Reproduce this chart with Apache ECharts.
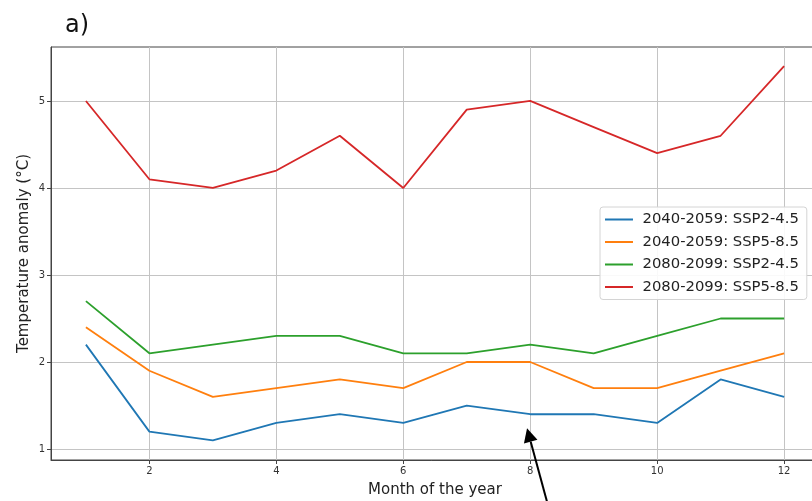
<!DOCTYPE html>
<html>
<head>
<meta charset="utf-8">
<script src="https://cdn.jsdelivr.net/npm/echarts@6/dist/echarts.min.js"></script>
<style>
  html, body { margin: 0; padding: 0; background: #fff; }
  #chart { width: 812px; height: 501px; }
</style>
</head>
<body>
<div id="chart"></div>
<script>
// Monthly temperature anomaly (°C) per period / scenario
const months = [1, 2, 3, 4, 5, 6, 7, 8, 9, 10, 11, 12];
const seriesNames = [
  '2040-2059: SSP2-4.5',
  '2040-2059: SSP5-8.5',
  '2080-2099: SSP2-4.5',
  '2080-2099: SSP5-8.5'
];
const near245 = [2.2, 1.2, 1.1, 1.3, 1.4, 1.3, 1.5, 1.4, 1.4, 1.3, 1.8, 1.6];
const near585 = [2.4, 1.9, 1.6, 1.7, 1.8, 1.7, 2.0, 2.0, 1.7, 1.7, 1.9, 2.1];
const far245  = [2.7, 2.1, 2.2, 2.3, 2.3, 2.1, 2.1, 2.2, 2.1, 2.3, 2.5, 2.5];
const far585  = [5.0, 4.1, 4.0, 4.2, 4.6, 4.0, 4.9, 5.0, 4.7, 4.4, 4.6, 5.4];
const xTicks = [2, 4, 6, 8, 10, 12];
const yTicks = [1, 2, 3, 4, 5];
// Annotation arrow, in data units: tail below the axis, head pointing at month 8
const arrowTail = [8.30, 0.30];
const arrowHead = [7.95, 1.24];

const colors = ['#1f77b4', '#ff7f0e', '#2ca02c', '#d62728'];
const values = [near245, near585, far245, far585];

const chart = echarts.init(document.getElementById('chart'), null, { renderer: 'canvas' });

const font = 'DejaVu Sans';
const gridLine = { show: true, lineStyle: { color: '#c4c4c4', width: 1 } };
// thin horizontal stroke centred in a 30x15 box, used as the legend key
const legendKey = 'path://M0,0 L0,0.01 M0,6.5 L30,6.5 L30,8.5 L0,8.5 Z M30,15 L30,15.01';

chart.setOption({
  animation: false,
  backgroundColor: '#ffffff',
  color: colors,
  title: {
    text: 'a)',
    left: 60,
    top: 9,
    textStyle: { fontFamily: font, fontSize: 24, fontWeight: 'normal', color: '#111' }
  },
  legend: {
    data: seriesNames,
    icon: legendKey,
    orient: 'vertical',
    left: 600,
    top: 207,
    padding: [5, 8, 5, 5],
    itemWidth: 31,
    itemHeight: 14,
    itemGap: 7.5,
    backgroundColor: 'rgba(255,255,255,0.9)',
    borderColor: '#d4d4d4',
    borderWidth: 1,
    borderRadius: 3,
    textStyle: { fontFamily: font, fontSize: 14.8, lineHeight: 15, color: '#222', padding: [0, 0, 0, 3] }
  },
  grid: {
    left: 51,
    right: -7,
    top: 47,
    bottom: 41,
    containLabel: false,
    outerBoundsMode: 'none',
    show: true,
    borderColor: '#444',
    borderWidth: 1
  },
  xAxis: {
    type: 'value',
    min: 0.45,
    max: 12.55,
    name: 'Month of the year',
    nameLocation: 'middle',
    nameGap: 23,
    nameMoveOverlap: false,
    nameTextStyle: { fontFamily: font, fontSize: 15, color: '#222' },
    axisLine: { show: true, onZero: false, lineStyle: { color: '#444', width: 1 } },
    axisTick: { show: true, length: 4, lineStyle: { color: '#444' }, customValues: xTicks },
    axisLabel: { fontFamily: font, fontSize: 10, color: '#333', margin: 6, customValues: xTicks },
    splitLine: gridLine
  },
  yAxis: {
    type: 'value',
    min: 0.874,
    max: 5.62,
    name: 'Temperature anomaly (°C)',
    nameLocation: 'middle',
    nameGap: 19,
    nameMoveOverlap: false,
    nameRotate: 90,
    nameTextStyle: { fontFamily: font, fontSize: 15, color: '#222' },
    axisLine: { show: true, onZero: false, lineStyle: { color: '#444', width: 1 } },
    axisTick: { show: true, length: 4, lineStyle: { color: '#444' }, customValues: yTicks },
    axisLabel: { fontFamily: font, fontSize: 10, color: '#333', margin: 6, customValues: yTicks },
    splitLine: gridLine
  },
  series: seriesNames.map((name, i) => ({
    name: name,
    type: 'line',
    data: months.map((m, k) => [m, values[i][k]]),
    symbol: 'none',
    lineStyle: { width: 1.8, color: colors[i] },
    emphasis: { disabled: true },
    z: 3
  }))
});

// Arrow annotation placed through the axis scales
function drawArrow() {
  const p0 = chart.convertToPixel({ gridIndex: 0 }, arrowTail);
  const p1 = chart.convertToPixel({ gridIndex: 0 }, arrowHead);
  const dx = p1[0] - p0[0], dy = p1[1] - p0[1];
  const len = Math.hypot(dx, dy);
  const ux = dx / len, uy = dy / len;
  const nx = -uy, ny = ux;
  const headLen = 14, headHalf = 7;
  const base = [p1[0] - ux * headLen, p1[1] - uy * headLen];
  chart.setOption({
    graphic: [
      {
        type: 'line',
        z: 100,
        shape: { x1: p0[0], y1: p0[1], x2: base[0], y2: base[1] },
        style: { stroke: '#000', lineWidth: 2 }
      },
      {
        type: 'polygon',
        z: 100,
        shape: {
          points: [
            p1,
            [base[0] + nx * headHalf, base[1] + ny * headHalf],
            [base[0] - nx * headHalf, base[1] - ny * headHalf]
          ]
        },
        style: { fill: '#000' }
      }
    ]
  });
}
drawArrow();
</script>
</body>
</html>
